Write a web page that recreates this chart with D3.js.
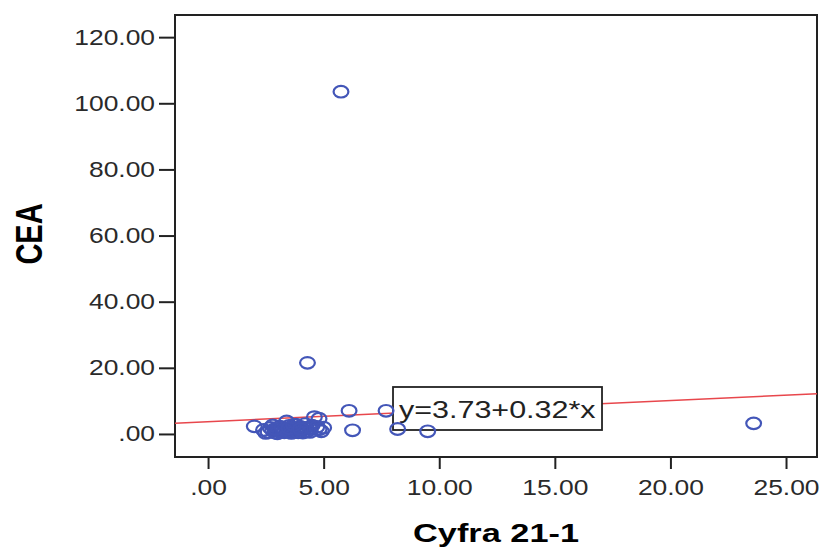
<!DOCTYPE html>
<html lang="en">
<head>
<meta charset="utf-8">
<script src="https://cdn.jsdelivr.net/npm/d3@7/dist/d3.min.js"></script>
<style>
  body { margin: 0; background: #fff; }
  svg { display: block; font-family: "Liberation Sans", Arial, sans-serif; }
</style>
</head>
<body>
<div id="chart"></div>
<script>
// Cyfra 21-1 (x) and CEA (y)
var cyfra = [2.0, 2.4, 2.6, 2.7, 2.8, 2.9, 3.0, 3.1, 3.1, 3.2, 3.3, 3.4, 3.4, 3.5, 3.5,
             3.6, 3.7, 3.7, 3.8, 3.8, 3.9, 4.0, 4.0, 4.1, 4.2, 4.3, 4.4, 4.5, 4.6, 4.8,
             4.8, 4.9, 5.0, 2.5, 2.8, 3.0, 3.2, 3.3, 3.6, 3.9, 4.1, 4.2, 4.4, 2.9, 3.5,
             3.7, 4.0, 4.7,
             5.75, 4.3, 23.6, 6.1, 7.7, 6.25, 8.2, 9.5];
var cea   = [2.3, 1.2, 0.6, 1.8, 1.0, 0.4, 1.4, 2.2, 0.8, 1.1, 0.5, 3.8, 1.6, 0.9, 2.4,
             1.3, 0.6, 1.9, 1.0, 2.8, 1.5, 0.7, 2.1, 1.2, 3.0, 0.9, 1.7, 2.5, 5.1, 4.6,
             1.4, 0.8, 1.9, 0.3, 2.6, 0.2, 1.9, 1.3, 0.3, 0.5, 0.4, 1.8, 0.6, 1.5, 1.7,
             2.7, 1.5, 2.1,
             103.5, 21.5, 3.2, 7.0, 7.0, 1.1, 1.5, 0.8];

var xTicks = [0, 5, 10, 15, 20, 25];
var yTicks = [0, 20, 40, 60, 80, 100, 120];

// fit line y = a + b*x
var fitA = 3.73;
var fitB = 0.32;
var fitLabel = "y=3.73+0.32*x";

var xTitle = "Cyfra 21-1";
var yTitle = "CEA";

//size
var w = 821;
var h = 549;
var frame = {left: 175, top: 15, right: 817, bottom: 457};

var svg = d3.select("#chart").append("svg")
  .attr("width", w)
  .attr("height", h);

svg.append("rect").attr("width", w).attr("height", h).attr("fill", "#fff");

var x = d3.scaleLinear().domain([-1.43, 26.34]).range([frame.left, frame.right]);
var y = d3.scaleLinear().domain([-6.97, 126.7]).range([frame.bottom, frame.top]);

// SPSS style labels: ".00", "20.00"
var fmt = d => d === 0 ? ".00" : d.toFixed(2);

var stretch = 1.2; // the original picture is a bit wider than tall

// y axis
var yAxis = svg.append("g")
  .attr("transform", "translate(" + frame.left + ",0)")
  .call(d3.axisLeft(y).tickValues(yTicks).tickSize(16).tickPadding(4).tickFormat(fmt));
yAxis.select(".domain").remove();
yAxis.selectAll("line").attr("stroke", "#222").attr("stroke-width", 2);
yAxis.selectAll("text")
  .attr("x", -20 / stretch)
  .attr("transform", "scale(" + stretch + ",1)")
  .attr("fill", "#2a2a2a")
  .style("font-size", "22px");

// x axis
var xAxis = svg.append("g")
  .attr("transform", "translate(0," + frame.bottom + ")")
  .call(d3.axisBottom(x).tickValues(xTicks).tickSize(12).tickPadding(10).tickFormat(fmt));
xAxis.select(".domain").remove();
xAxis.selectAll("line").attr("stroke", "#222").attr("stroke-width", 2);
xAxis.selectAll("text")
  .attr("transform", "scale(" + stretch + ",1)")
  .attr("fill", "#2a2a2a")
  .style("font-size", "22px");

// plot frame
svg.append("rect")
  .attr("x", frame.left)
  .attr("y", frame.top)
  .attr("width", frame.right - frame.left)
  .attr("height", frame.bottom - frame.top)
  .attr("fill", "none")
  .attr("stroke", "#222")
  .attr("stroke-width", 2);

// regression line across the whole frame
var xd = x.domain();
svg.append("line")
  .attr("x1", x(xd[0])).attr("y1", y(fitA + fitB * xd[0]))
  .attr("x2", x(xd[1])).attr("y2", y(fitA + fitB * xd[1]))
  .attr("stroke", "#e8474c")
  .attr("stroke-width", 1.5);

// fit label box
var boxX = x(8.0), boxY = y(14.2);
svg.append("rect")
  .attr("x", boxX).attr("y", boxY)
  .attr("width", 209).attr("height", 43)
  .attr("fill", "#fff")
  .attr("stroke", "#222")
  .attr("stroke-width", 1.8);
svg.append("text")
  .attr("transform", "translate(" + (boxX + 6) + "," + (boxY + 31) + ") scale(1.27,1)")
  .attr("fill", "#222")
  .style("font-size", "24px")
  .text(fitLabel);

// points
svg.append("g").selectAll("ellipse")
  .data(d3.range(cyfra.length))
  .enter()
  .append("ellipse")
  .attr("cx", i => x(cyfra[i]))
  .attr("cy", i => y(cea[i]))
  .attr("rx", 7.4)
  .attr("ry", 5.8)
  .attr("fill", "none")
  .attr("stroke", "#4356b8")
  .attr("stroke-width", 2.2);

// axis titles
svg.append("text")
  .attr("transform", "translate(496,542) scale(1.32,1)")
  .attr("text-anchor", "middle")
  .style("font-size", "26px")
  .style("font-weight", "bold")
  .text(xTitle);

svg.append("text")
  .attr("transform", "translate(42,234) scale(1.3,1) rotate(-90)")
  .attr("text-anchor", "middle")
  .style("font-size", "29px")
  .style("font-weight", "bold")
  .text(yTitle);
</script>
</body>
</html>
